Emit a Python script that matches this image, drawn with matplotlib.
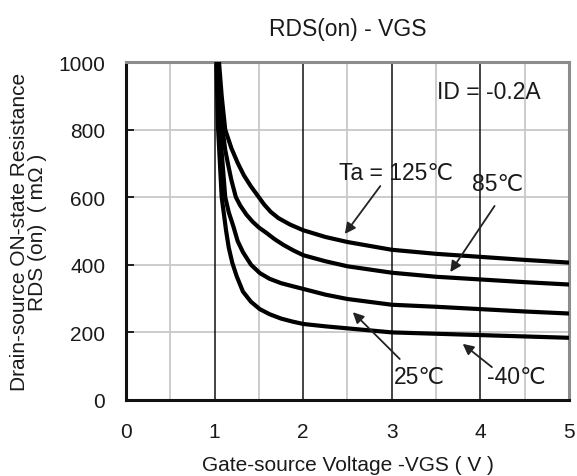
import matplotlib
matplotlib.use("Agg")
import matplotlib.pyplot as plt

plt.rcParams['font.family'] = ['Liberation Sans', 'DejaVu Sans']

# Data (VGS in V, RDS(on) in mOhm)
x_125 = [1.05, 1.08, 1.12, 1.19, 1.26, 1.33, 1.41, 1.485, 1.56, 1.635, 1.72, 1.85, 2.0, 2.25, 2.5, 3.0, 3.5, 4.0, 4.5, 5.0]
y_125 = [1000, 900, 800, 745, 702, 665, 632, 605, 578, 556, 538, 519, 502, 482, 467, 444, 432, 423, 414, 406]

x_85 = [1.04, 1.065, 1.09, 1.12, 1.15, 1.19, 1.24, 1.29, 1.36, 1.43, 1.5, 1.58, 1.68, 1.78, 1.89, 2.0, 2.25, 2.5, 3.0, 3.5, 4.0, 4.5, 5.0]
y_85 = [1000, 900, 800, 740, 700, 650, 600, 575, 548, 527, 510, 495, 475, 458, 442, 428, 410, 395, 376, 364, 356, 348, 341]

x_25 = [1.03, 1.045, 1.06, 1.09, 1.12, 1.16, 1.21, 1.26, 1.32, 1.41, 1.51, 1.62, 1.75, 1.88, 2.0, 2.25, 2.5, 3.0, 3.5, 4.0, 4.5, 5.0]
y_25 = [1000, 900, 800, 700, 600, 555, 515, 470, 437, 400, 375, 358, 345, 336, 328, 311, 298, 281, 275, 268, 261, 255]

x_m40 = [1.02, 1.03, 1.04, 1.06, 1.08, 1.105, 1.13, 1.16, 1.20, 1.25, 1.32, 1.41, 1.51, 1.62, 1.75, 1.88, 2.0, 2.25, 2.5, 3.0, 3.5, 4.0, 4.5, 5.0]
y_m40 = [1000, 900, 800, 700, 600, 550, 500, 450, 405, 365, 320, 290, 268, 253, 240, 231, 224, 217, 211, 199, 195, 191, 187, 183]

x_ticks = [0, 1, 2, 3, 4, 5]
y_ticks = [0, 200, 400, 600, 800, 1000]

W, H = 577, 477
fig = plt.figure(figsize=(W / 100, H / 100), dpi=100)
ax = fig.add_axes([126 / W, 1 - 400.5 / H, 443 / W, 337.2 / H])

ax.set_xlim(0, 5)
ax.set_ylim(0, 1000)

# grid
for gx in [0.5, 1.5, 2.5, 3.5, 4.5]:
    ax.axvline(gx, color='#c8c8c8', lw=1.3, zorder=1)
for gy in [200, 400, 600, 800]:
    ax.axhline(gy, color='#c8c8c8', lw=1.3, zorder=1)
for gx in [1, 2, 3, 4]:
    ax.axvline(gx, color='#111111', lw=1.1, zorder=1.5)

for xs, ys in [(x_125, y_125), (x_85, y_85), (x_25, y_25), (x_m40, y_m40)]:
    ax.plot(xs, ys, color='black', lw=3.0, solid_capstyle='round',
            solid_joinstyle='round', zorder=3)

for side in ['left', 'bottom']:
    ax.spines[side].set_color('#111111')
    ax.spines[side].set_linewidth(2.2)
for side in ['top', 'right']:
    ax.spines[side].set_color('#8c8c8c')
    ax.spines[side].set_linewidth(2.2)

ax.set_xticks(x_ticks)
ax.set_yticks(y_ticks)
ax.tick_params(axis='y', direction='in', length=6, width=1.3, color='#111111',
               labelsize=15, pad=15, labelcolor='#1a1a1a')
ax.tick_params(axis='x', length=0, labelsize=15, pad=16, labelcolor='#1a1a1a')

ax.set_xlabel('Gate-source Voltage -VGS ( V )', fontsize=15, color='#1a1a1a', labelpad=10)
ax.set_ylabel('Drain-source ON-state Resistance\nRDS (on)  ( mΩ )', fontsize=15,
              color='#1a1a1a', labelpad=8, linespacing=0.95)
ax.set_title('RDS(on) - VGS', fontsize=16.5, color='#1a1a1a', pad=20)

ax.text(4.10, 912, 'ID = -0.2A', fontsize=16.5, color='#1a1a1a', ha='center', va='center', zorder=4)

arrow = dict(arrowstyle='-|>', lw=1.3, color='#222222', mutation_scale=16, shrinkA=0, shrinkB=0)
ax.annotate('', xy=(2.47, 491), xytext=(2.87, 633), arrowprops=arrow, zorder=4)
ax.annotate('', xy=(3.66, 378), xytext=(4.16, 574), arrowprops=arrow, zorder=4)
ax.annotate('', xy=(2.56, 259), xytext=(3.09, 120), arrowprops=arrow, zorder=4)
ax.annotate('', xy=(3.80, 165), xytext=(4.13, 96), arrowprops=arrow, zorder=4)

lbl = dict(fontsize=16.5, color='#1a1a1a', ha='center', va='center', zorder=4)
ax.text(3.05, 672, 'Ta = 125℃', **lbl)
ax.text(4.19, 642, '85℃', **lbl)
ax.text(3.31, 67, '25℃', **lbl)
ax.text(4.41, 67, '-40℃', **lbl)

fig.savefig('out.png', dpi=100)
